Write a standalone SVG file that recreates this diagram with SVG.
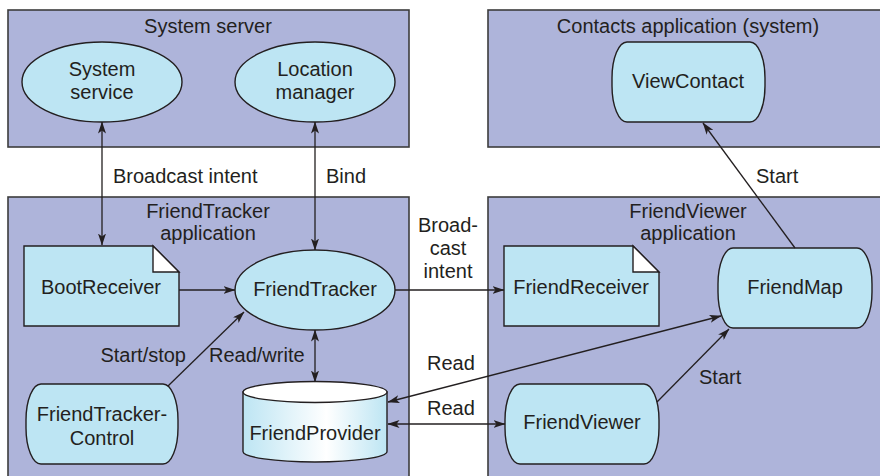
<svg xmlns="http://www.w3.org/2000/svg" width="880" height="476" viewBox="0 0 880 476">
<defs>
<style>
.box{fill:#aeb4da;stroke:#3c3c3c;stroke-width:1.6}
.node{fill:#bde5f3;stroke:#231f20;stroke-width:1.4}
.fold{fill:#ffffff;stroke:#231f20;stroke-width:1.4}
.t{font-family:"Liberation Sans",Arial,sans-serif;font-size:20px;fill:#231f20}
.m{text-anchor:middle}
.e{text-anchor:end}
.c{fill:none;stroke:#231f20;stroke-width:1.3}
</style>
<marker id="ah" viewBox="0 0 12 8" refX="11.5" refY="4" markerWidth="12" markerHeight="8" markerUnits="userSpaceOnUse" orient="auto-start-reverse">
<path d="M0,0 L12,4 L0,8 L3,4 Z" fill="#231f20"/>
</marker>
<linearGradient id="cyl" x1="0" y1="0" x2="1" y2="0">
<stop offset="0" stop-color="#bde5f3"/>
<stop offset="0.58" stop-color="#ffffff"/>
<stop offset="1" stop-color="#bde5f3"/>
</linearGradient>
</defs>

<g id="system-server">
<rect class="box" x="8" y="10" width="401" height="137"/>
<text class="t m" x="208" y="33">System server</text>
</g>
<g id="contacts-app">
<rect class="box" x="488" y="10" width="400" height="137"/>
<text class="t m" x="688" y="33">Contacts application (system)</text>
</g>
<g id="friendtracker-app">
<rect class="box" x="8" y="197" width="401" height="290"/>
<text class="t m" x="208" y="218">FriendTracker</text>
<text class="t m" x="208" y="240">application</text>
</g>
<g id="friendviewer-app">
<rect class="box" x="488" y="197" width="400" height="290"/>
<text class="t m" x="688" y="218">FriendViewer</text>
<text class="t m" x="688" y="240">application</text>
</g>

<g id="system-service">
<ellipse class="node" cx="102" cy="82" rx="80" ry="40"/>
<text class="t m" x="102" y="76">System</text>
<text class="t m" x="102" y="99">service</text>
</g>
<g id="location-manager">
<ellipse class="node" cx="315" cy="82" rx="80" ry="40"/>
<text class="t m" x="315" y="76">Location</text>
<text class="t m" x="315" y="99">manager</text>
</g>
<g id="view-contact">
<rect class="node" x="612" y="42" width="153" height="80" rx="15" ry="36"/>
<text class="t m" x="688" y="88">ViewContact</text>
</g>
<g id="boot-receiver">
<path class="node" d="M24,246 H153 L179,272 V326 H24 Z"/>
<path class="fold" d="M153,246 V272 H179 Z"/>
<text class="t m" x="101" y="294">BootReceiver</text>
</g>
<g id="friend-tracker">
<ellipse class="node" cx="315" cy="290" rx="80" ry="40"/>
<text class="t m" x="315" y="296">FriendTracker</text>
</g>
<g id="friend-receiver">
<path class="node" d="M504,246 H633 L659,272 V326 H504 Z"/>
<path class="fold" d="M633,246 V272 H659 Z"/>
<text class="t m" x="581" y="294">FriendReceiver</text>
</g>
<g id="friend-map">
<rect class="node" x="718" y="248" width="154" height="80" rx="15" ry="36"/>
<text class="t m" x="795" y="294">FriendMap</text>
</g>
<g id="friend-tracker-control">
<rect class="node" x="26" y="384" width="152" height="80" rx="15" ry="36"/>
<text class="t m" x="102" y="421">FriendTracker-</text>
<text class="t m" x="102" y="445">Control</text>
</g>
<g id="friend-provider">
<path d="M243,392 V451.5 A72,10.5 0 0 0 387,451.5 V392 Z" fill="url(#cyl)" stroke="#231f20" stroke-width="1.4"/>
<ellipse cx="315" cy="392" rx="72" ry="10.5" fill="#ffffff" stroke="#231f20" stroke-width="1.4"/>
<text class="t m" x="315" y="440">FriendProvider</text>
</g>
<g id="friend-viewer">
<rect class="node" x="505" y="384" width="154" height="80" rx="15" ry="36"/>
<text class="t m" x="582" y="429">FriendViewer</text>
</g>

<g id="connectors">
<line class="c" x1="102" y1="122" x2="102" y2="245" marker-start="url(#ah)" marker-end="url(#ah)"/>
<line class="c" x1="315" y1="122" x2="315" y2="250" marker-start="url(#ah)" marker-end="url(#ah)"/>
<line class="c" x1="795" y1="248" x2="703" y2="123" marker-end="url(#ah)"/>
<line class="c" x1="179" y1="290" x2="235" y2="290" marker-end="url(#ah)"/>
<line class="c" x1="395" y1="290" x2="504" y2="290" marker-end="url(#ah)"/>
<line class="c" x1="168" y1="386" x2="244" y2="312" marker-end="url(#ah)"/>
<line class="c" x1="315" y1="330" x2="315" y2="382" marker-start="url(#ah)" marker-end="url(#ah)"/>
<line class="c" x1="388" y1="402" x2="721" y2="316" marker-start="url(#ah)" marker-end="url(#ah)"/>
<line class="c" x1="388" y1="424" x2="505" y2="424" marker-start="url(#ah)" marker-end="url(#ah)"/>
<line class="c" x1="657" y1="402" x2="729" y2="329" marker-end="url(#ah)"/>
</g>

<g id="labels">
<text class="t" x="113" y="183">Broadcast intent</text>
<text class="t" x="326" y="183">Bind</text>
<text class="t" x="756" y="183">Start</text>
<text class="t m" x="448" y="232">Broad-</text>
<text class="t m" x="448" y="255">cast</text>
<text class="t m" x="448" y="278">intent</text>
<text class="t e" x="186" y="362">Start/stop</text>
<text class="t" x="209" y="362">Read/write</text>
<text class="t" x="427" y="370">Read</text>
<text class="t" x="427" y="415">Read</text>
<text class="t" x="699" y="384">Start</text>
</g>
</svg>
